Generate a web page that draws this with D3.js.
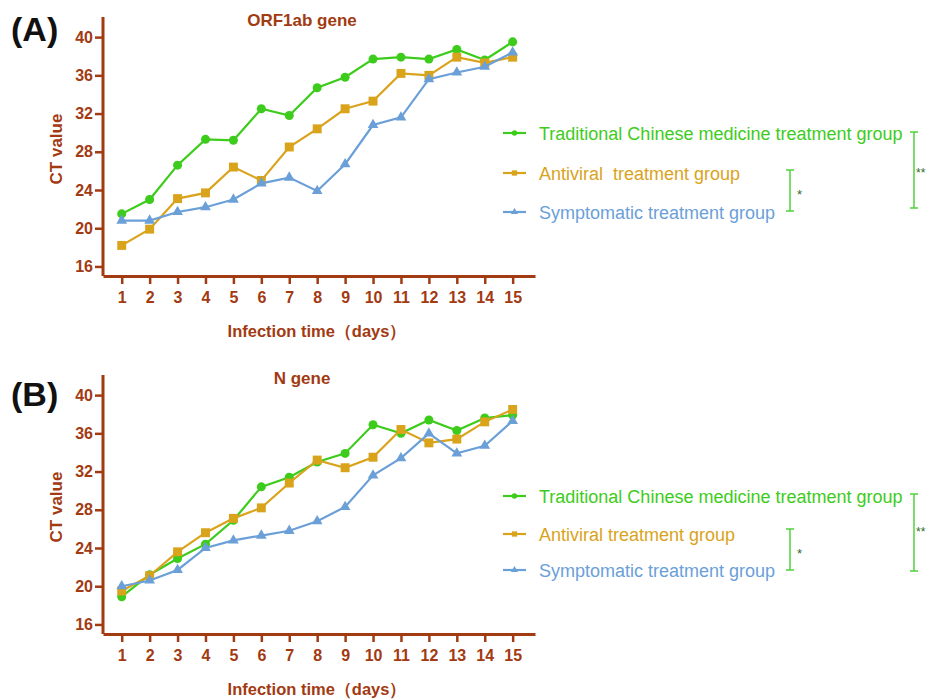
<!DOCTYPE html>
<html>
<head>
<meta charset="utf-8">
<script src="https://cdn.jsdelivr.net/npm/d3@7"></script>
<style>
  html, body { margin: 0; padding: 0; background: #fff; }
  svg { display: block; }
  text { font-family: Arial, "Liberation Sans", sans-serif; }
</style>
</head>
<body>
<svg id="chart" width="927" height="700"></svg>
<script>
// ---------- data ----------
const days = [1,2,3,4,5,6,7,8,9,10,11,12,13,14,15];
const yTicks = [16,20,24,28,32,36,40];

// Panel A: ORF1ab gene
const orfTCM       = [21.5,23.0,26.6,29.3,29.2,32.5,31.8,34.7,35.8,37.7,37.9,37.7,38.7,37.6,39.5];
const orfAntiviral = [18.2,19.9,23.1,23.7,26.4,25.0,28.5,30.4,32.5,33.3,36.2,36.0,37.9,37.3,37.9];
const orfSymptom   = [20.8,20.8,21.7,22.2,23.0,24.7,25.3,23.9,26.7,30.8,31.6,35.6,36.3,36.9,38.4];

// Panel B: N gene
const nTCM       = [18.9,21.2,22.9,24.4,26.9,30.4,31.4,33.0,33.9,36.9,36.0,37.4,36.3,37.6,37.9];
const nAntiviral = [19.5,21.1,23.6,25.6,27.1,28.2,30.8,33.2,32.4,33.5,36.4,35.0,35.4,37.2,38.5];
const nSymptom   = [20.0,20.6,21.7,24.0,24.8,25.3,25.8,26.8,28.3,31.6,33.4,36.0,33.9,34.7,37.3];

const seriesNames = ["Traditional Chinese medicine treatment group", "Antiviral  treatment group", "Symptomatic treatment group"];
const seriesNamesB = ["Traditional Chinese medicine treatment group", "Antiviral treatment group", "Symptomatic treatment group"];
const panelTitles = ["ORF1ab gene", "N gene"];
const panelLabels = ["(A)", "(B)"];
const xTitle = "Infection time\uFF08days\uFF09";
const yTitle = "CT value";
const sigLabels = ["*", "**"];

// ---------- styles ----------
const colors = ["#3dcc1c", "#d9a31c", "#6b9fd8"];
const shapes = [d3.symbolCircle, d3.symbolSquare, d3.symbolTriangle];
const axisColor = "#a23a12";

const svg = d3.select("#chart");

function drawPanel(dy, data, title, label, labelY) {
  const g = svg.append("g").attr("transform", `translate(0,${dy})`);
  const x = d3.scaleLinear().domain([0.33, 15.8]).range([103, 535]);
  const y = d3.scaleLinear().domain([15, 42]).range([276, 18]);

  // axes
  const xAxis = g.append("g").attr("transform", "translate(0,276)")
    .call(d3.axisBottom(x).tickValues(days).tickSize(8).tickSizeOuter(0).tickPadding(5).tickFormat(d3.format("d")));
  const yAxis = g.append("g").attr("transform", "translate(103,0)")
    .call(d3.axisLeft(y).tickValues(yTicks).tickSize(8).tickSizeOuter(0).tickPadding(2));
  [xAxis, yAxis].forEach(a => {
    a.select(".domain").attr("stroke", axisColor).attr("stroke-width", 3);
    a.selectAll(".tick line").attr("stroke", axisColor).attr("stroke-width", 2.5);
    a.selectAll(".tick text").attr("fill", axisColor).attr("font-size", 16).attr("font-weight", "bold")
      .style("font-family", "Arial, 'Liberation Sans', sans-serif");
  });
  xAxis.selectAll(".tick text").attr("dy", "0.85em");
  yAxis.select(".domain").attr("d", `M0,${y(42)-1}V${y(15)}`);

  // axis titles
  g.append("text").attr("x", 317).attr("y", 337).attr("text-anchor", "middle")
    .attr("fill", axisColor).attr("font-size", 16.5).attr("font-weight", "bold").text(xTitle);
  g.append("text").attr("transform", "translate(62,149) rotate(-90)").attr("text-anchor", "middle")
    .attr("fill", axisColor).attr("font-size", 17).attr("font-weight", "bold").text(yTitle);

  // panel title & label
  g.append("text").attr("x", 302).attr("y", 26).attr("text-anchor", "middle")
    .attr("fill", axisColor).attr("font-size", 17).attr("font-weight", "bold").text(title);
  g.append("text").attr("x", 11).attr("y", labelY)
    .attr("fill", "#111").attr("font-size", 34).attr("font-weight", "bold").text(label);

  // lines
  const line = d3.line().x((d, i) => x(days[i])).y(d => y(d));
  const sizes = [64, 80, 50];
  data.forEach((vals, si) => {
    g.append("path").datum(vals).attr("d", line).attr("fill", "none")
      .attr("stroke", colors[si]).attr("stroke-width", 2.2);
    g.selectAll(null).data(vals).enter().append("path")
      .attr("transform", (d, i) => `translate(${x(days[i])},${y(d)})`)
      .attr("d", d3.symbol().type(shapes[si]).size(sizes[si]))
      .attr("fill", colors[si]);
  });
}

function drawLegend(rows, names, br1, br2) {
  const g = svg.append("g");
  rows.forEach((ry, i) => {
    g.append("line").attr("x1", 503).attr("x2", 526).attr("y1", ry).attr("y2", ry)
      .attr("stroke", colors[i]).attr("stroke-width", 2.2);
    const sz = [22, 28, 22];
    g.append("path").attr("transform", `translate(514.5,${ry})`)
      .attr("d", d3.symbol().type(shapes[i]).size(sz[i])).attr("fill", colors[i]);
    g.append("text").attr("x", 539).attr("y", ry + 6.5).attr("font-size", 18)
      .attr("fill", colors[i]).style("white-space", "pre").text(names[i]);
  });
  const brackets = [br1, br2];
  brackets.forEach((b, i) => {
    const bg = g.append("g").attr("stroke", "#4fd23a").attr("stroke-width", 1.5);
    bg.append("line").attr("x1", b.x).attr("x2", b.x).attr("y1", b.y1).attr("y2", b.y2);
    bg.append("line").attr("x1", b.x - 4).attr("x2", b.x + 4).attr("y1", b.y1).attr("y2", b.y1);
    bg.append("line").attr("x1", b.x - 4).attr("x2", b.x + 4).attr("y1", b.y2).attr("y2", b.y2);
    g.append("text").attr("x", b.x + b.dx).attr("y", b.ty).attr("font-size", b.fs)
      .attr("fill", "#2f6a2a").text(sigLabels[i]);
  });
}

drawPanel(0, [orfTCM, orfAntiviral, orfSymptom], panelTitles[0], panelLabels[0], 41);
drawPanel(358, [nTCM, nAntiviral, nSymptom], panelTitles[1], panelLabels[1], 48);

drawLegend([133, 173, 212], seriesNames, {x: 790, y1: 170, y2: 211, ty: 199, dx: 7, fs: 13}, {x: 914, y1: 132, y2: 208, ty: 177, dx: 2, fs: 12});
drawLegend([496, 534, 570], seriesNamesB, {x: 790, y1: 529, y2: 570, ty: 558, dx: 7, fs: 13}, {x: 914, y1: 494, y2: 571, ty: 536, dx: 2, fs: 12});
</script>
</body>
</html>
